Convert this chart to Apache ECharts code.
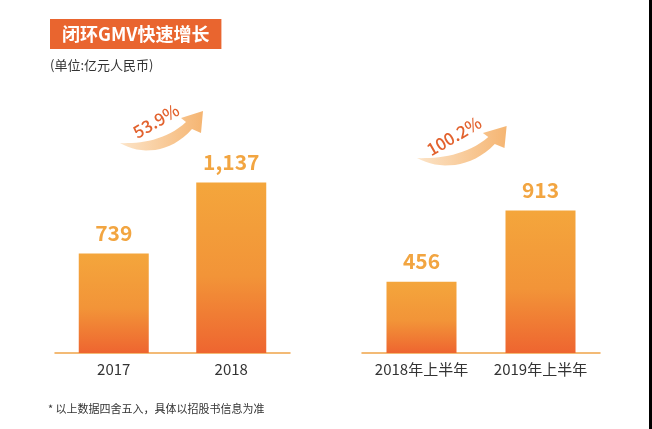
<!DOCTYPE html>
<html>
<head>
<meta charset="utf-8">
<script src="https://cdn.jsdelivr.net/npm/echarts@6/dist/echarts.min.js"></script>
<style>
  html, body { margin: 0; padding: 0; background: #000; }
  #main { width: 649px; height: 429px; background: #fff; }
</style>
</head>
<body>
<div id="main"></div>
<script>
var yearCats = ['2017', '2018']
var yearGmv = [739, 1137]
var halfCats = ['2018年上半年', '2019年上半年']
var halfGmv = [456, 913]
var growthLabels = ['53.9%', '100.2%']

var FONT = 'Noto Sans CJK SC'
var chart = echarts.init(document.getElementById('main'))

function barColor() {
  return new echarts.graphic.LinearGradient(0, 0, 0, 1, [
    { offset: 0, color: '#F4A63C' },
    { offset: 0.55, color: '#F29438' },
    { offset: 1, color: '#EE6530' }
  ])
}

// crescent arrow outline, local coords, tail at (0,0)
function bez(p0, p1, p2, p3, n) {
  var pts = []
  for (var i = 0; i <= n; i++) {
    var t = i / n
    var u = 1 - t
    pts.push([
      u * u * u * p0[0] + 3 * u * u * t * p1[0] + 3 * u * t * t * p2[0] + t * t * t * p3[0],
      u * u * u * p0[1] + 3 * u * u * t * p1[1] + 3 * u * t * t * p2[1] + t * t * t * p3[1]
    ])
  }
  return pts
}

function arrowPoints() {
  var lower = bez([0, 0], [20, 12], [50, 11], [72, -14], 16)
  var head = [[81, -10], [83, -32], [61, -25]]
  var upper = bez([66, -21], [47, -3], [20, 1], [0, 0], 16)
  return lower.concat(head, upper)
}

function arrowFill() {
  return new echarts.graphic.LinearGradient(0, 0, 1, 0, [
    { offset: 0, color: '#FCE4C8' },
    { offset: 1, color: '#F5B572' }
  ])
}

var baseAxis = {
  type: 'category',
  axisTick: { show: false },
  axisLine: { lineStyle: { color: '#F0A448', width: 1.5 } },
  axisLabel: { color: '#333', fontSize: 15, fontFamily: FONT, margin: 9, interval: 0 }
}

var barLabel = {
  show: true,
  position: 'top',
  distance: 10,
  color: '#F2A541',
  fontSize: 21,
  fontWeight: 'bold',
  fontFamily: FONT,
  formatter: function(p) {
    return p.value.toLocaleString('en-US')
  }
}

chart.setOption({
  animation: false,
  title: [
    {
      text: '闭环GMV快速增长',
      left: 50,
      top: 19,
      backgroundColor: '#E9652F',
      padding: [6, 12],
      textStyle: { color: '#fff', fontSize: 18, fontWeight: 'bold', fontFamily: FONT, lineHeight: 18 }
    },
    {
      text: '(单位:亿元人民币)',
      left: 50,
      top: 59,
      padding: 0,
      textStyle: { color: '#333', fontSize: 13, fontWeight: 'normal', fontFamily: FONT }
    },
    {
      text: '* 以上数据四舍五入，具体以招股书信息为准',
      left: 48,
      top: 403,
      padding: 0,
      textStyle: { color: '#333', fontSize: 11, fontWeight: 'normal', fontFamily: FONT }
    }
  ],
  grid: [
    { left: 55, width: 235, top: 100, bottom: 76 },
    { left: 362, width: 238, top: 100, bottom: 76 }
  ],
  xAxis: [
    Object.assign({ gridIndex: 0, data: yearCats }, baseAxis),
    Object.assign({ gridIndex: 1, data: halfCats }, baseAxis)
  ],
  yAxis: [
    { gridIndex: 0, type: 'value', min: 180, max: 1600, show: false, splitLine: { show: false } },
    { gridIndex: 1, type: 'value', min: 0, max: 1620, show: false, splitLine: { show: false } }
  ],
  series: [
    {
      type: 'bar',
      xAxisIndex: 0,
      yAxisIndex: 0,
      data: yearGmv,
      barWidth: 70,
      clip: true,
      itemStyle: { color: barColor() },
      label: barLabel
    },
    {
      type: 'bar',
      xAxisIndex: 1,
      yAxisIndex: 1,
      data: halfGmv,
      barWidth: 70,
      itemStyle: { color: barColor() },
      label: barLabel
    }
  ],
  graphic: [
    {
      type: 'polygon',
      x: 120,
      y: 143,
      shape: { points: arrowPoints() },
      style: { fill: arrowFill() }
    },
    {
      type: 'text',
      x: 156,
      y: 121,
      rotation: Math.PI / 6,
      style: {
        text: growthLabels[0],
        fill: '#E2622E',
        font: '500 17px "Noto Sans CJK SC"',
        textAlign: 'center',
        textVerticalAlign: 'middle'
      }
    },
    {
      type: 'polygon',
      x: 417,
      y: 158,
      scaleX: 1.08,
      shape: { points: arrowPoints() },
      style: { fill: arrowFill() }
    },
    {
      type: 'text',
      x: 454,
      y: 136,
      rotation: Math.PI / 6,
      style: {
        text: growthLabels[1],
        fill: '#E2622E',
        font: '500 17px "Noto Sans CJK SC"',
        textAlign: 'center',
        textVerticalAlign: 'middle'
      }
    }
  ]
})
</script>
</body>
</html>
